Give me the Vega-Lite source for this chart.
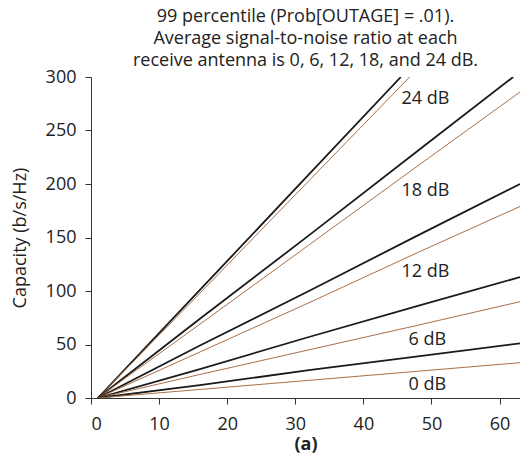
{
  "$schema": "https://vega.github.io/schema/vega-lite/v6.json",
  "width": 429,
  "height": 321,
  "autosize": "none",
  "padding": {"left": 91, "top": 77, "right": 0, "bottom": 59},
  "title": {
    "text": ["99 percentile (Prob[OUTAGE] = .01).", "Average signal-to-noise ratio at each", "receive antenna is 0, 6, 12, 18, and 24 dB."],
    "font": "Open Sans",
    "fontSize": 18,
    "fontWeight": "normal",
    "color": "#222222",
    "lineHeight": 22,
    "offset": -2,
    "anchor": "middle"
  },
  "config": {
    "view": {"stroke": null},
    "axis": {
      "labelFont": "Open Sans",
      "titleFont": "Open Sans",
      "labelFontSize": 18,
      "labelColor": "#222222",
      "titleColor": "#222222",
      "domainColor": "#333333",
      "tickColor": "#333333",
      "tickSize": 6,
      "grid": false
    }
  },
  "datasets": {
    "curves": [
      {"snr": "24", "kind": "black", "n": 1, "cap": 0}, {"snr": "24", "kind": "black", "n": 16, "cap": 101}, {"snr": "24", "kind": "black", "n": 32, "cap": 209}, {"snr": "24", "kind": "black", "n": 45.5, "cap": 300},
      {"snr": "24", "kind": "brown", "n": 1, "cap": 0}, {"snr": "24", "kind": "brown", "n": 16, "cap": 98}, {"snr": "24", "kind": "brown", "n": 32, "cap": 203}, {"snr": "24", "kind": "brown", "n": 46.8, "cap": 300},
      {"snr": "18", "kind": "black", "n": 1, "cap": 0}, {"snr": "18", "kind": "black", "n": 16, "cap": 74}, {"snr": "18", "kind": "black", "n": 32, "cap": 152}, {"snr": "18", "kind": "black", "n": 48, "cap": 231}, {"snr": "18", "kind": "black", "n": 62, "cap": 300},
      {"snr": "18", "kind": "brown", "n": 1, "cap": 0}, {"snr": "18", "kind": "brown", "n": 16, "cap": 69}, {"snr": "18", "kind": "brown", "n": 32, "cap": 143}, {"snr": "18", "kind": "brown", "n": 48, "cap": 217}, {"snr": "18", "kind": "brown", "n": 63, "cap": 286},
      {"snr": "12", "kind": "black", "n": 1, "cap": 0}, {"snr": "12", "kind": "black", "n": 16, "cap": 49}, {"snr": "12", "kind": "black", "n": 32, "cap": 100}, {"snr": "12", "kind": "black", "n": 48, "cap": 152}, {"snr": "12", "kind": "black", "n": 63, "cap": 200},
      {"snr": "12", "kind": "brown", "n": 1, "cap": 0}, {"snr": "12", "kind": "brown", "n": 16, "cap": 43}, {"snr": "12", "kind": "brown", "n": 32, "cap": 89}, {"snr": "12", "kind": "brown", "n": 48, "cap": 136}, {"snr": "12", "kind": "brown", "n": 63, "cap": 179},
      {"snr": "6", "kind": "black", "n": 1, "cap": 0}, {"snr": "6", "kind": "black", "n": 16, "cap": 27}, {"snr": "6", "kind": "black", "n": 32, "cap": 57}, {"snr": "6", "kind": "black", "n": 48, "cap": 86}, {"snr": "6", "kind": "black", "n": 63, "cap": 113},
      {"snr": "6", "kind": "brown", "n": 1, "cap": 0}, {"snr": "6", "kind": "brown", "n": 16, "cap": 22}, {"snr": "6", "kind": "brown", "n": 32, "cap": 45}, {"snr": "6", "kind": "brown", "n": 48, "cap": 68}, {"snr": "6", "kind": "brown", "n": 63, "cap": 90},
      {"snr": "0", "kind": "black", "n": 1, "cap": 0}, {"snr": "0", "kind": "black", "n": 16, "cap": 12}, {"snr": "0", "kind": "black", "n": 32, "cap": 26}, {"snr": "0", "kind": "black", "n": 48, "cap": 39}, {"snr": "0", "kind": "black", "n": 63, "cap": 51},
      {"snr": "0", "kind": "brown", "n": 1, "cap": 0}, {"snr": "0", "kind": "brown", "n": 16, "cap": 8}, {"snr": "0", "kind": "brown", "n": 32, "cap": 16.5}, {"snr": "0", "kind": "brown", "n": 48, "cap": 25}, {"snr": "0", "kind": "brown", "n": 63, "cap": 33}
    ],
    "labels": [
      {"label": "24 dB", "n": 49.1, "cap": 279},
      {"label": "18 dB", "n": 49.1, "cap": 193},
      {"label": "12 dB", "n": 49.1, "cap": 118},
      {"label": "6 dB", "n": 49.4, "cap": 54},
      {"label": "0 dB", "n": 49.4, "cap": 12}
    ]
  },
  "layer": [
    {
      "mark": {"type": "rule", "color": "#555555", "strokeWidth": 1},
      "encoding": {"y": {"datum": 300, "type": "quantitative", "scale": {"domain": [0, 300], "nice": false}}}
    },
    {
      "data": {"name": "curves"},
      "mark": {"type": "line", "clip": true},
      "encoding": {
        "x": {"field": "n", "type": "quantitative", "scale": {"domain": [0, 63], "nice": false, "zero": false},
              "axis": {"values": [0, 10, 20, 30, 40, 50, 60], "title": "(a)", "titleFontWeight": "bold", "titleFontSize": 18, "labelPadding": 11, "titlePadding": 2}},
        "y": {"field": "cap", "type": "quantitative", "scale": {"domain": [0, 300], "nice": false},
              "axis": {"values": [0, 50, 100, 150, 200, 250, 300], "title": "Capacity (b/s/Hz)", "titleFontWeight": "normal", "titleFontSize": 18, "labelPadding": 9, "titlePadding": 16}},
        "detail": {"field": "snr"},
        "color": {"field": "kind", "type": "nominal", "scale": {"domain": ["black", "brown"], "range": ["#1a1a1a", "#a8704a"]}, "legend": null},
        "strokeWidth": {"field": "kind", "type": "nominal", "scale": {"domain": ["black", "brown"], "range": [1.8, 1]}, "legend": null},
        "order": {"field": "n", "type": "quantitative"}
      }
    },
    {
      "data": {"name": "labels"},
      "mark": {"type": "text", "font": "Open Sans", "fontSize": 18, "color": "#222222", "align": "center", "baseline": "middle"},
      "encoding": {
        "x": {"field": "n", "type": "quantitative"},
        "y": {"field": "cap", "type": "quantitative"},
        "text": {"field": "label"}
      }
    }
  ]
}
